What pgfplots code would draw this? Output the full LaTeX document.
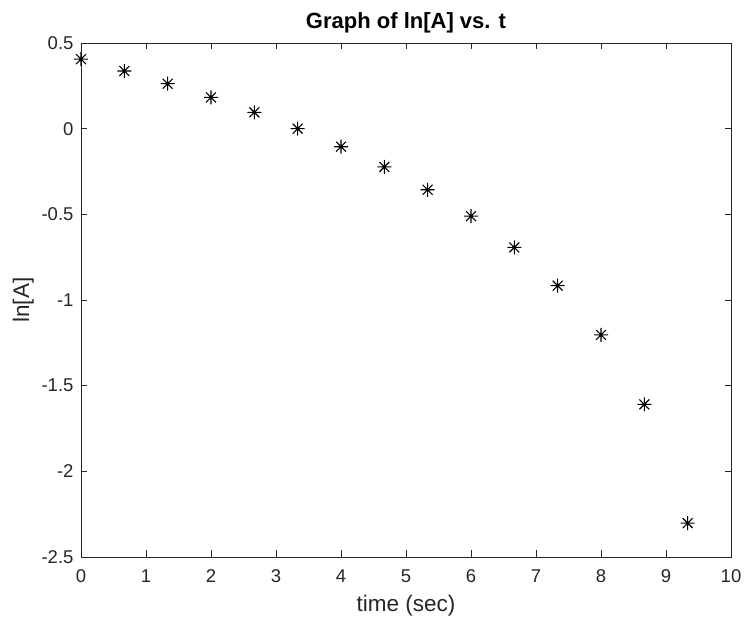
\documentclass[border=0pt]{standalone}
\usepackage{pgfplots}
\pgfplotsset{compat=1.18}
\usepackage{fontspec}
\setmainfont{Liberation Sans}
\definecolor{mgray}{RGB}{38,38,38}
\pgfdeclareplotmark{mstar}{%
 \pgfpathmoveto{\pgfqpoint{-\pgfplotmarksize}{0pt}}\pgfpathlineto{\pgfqpoint{\pgfplotmarksize}{0pt}}%
 \pgfpathmoveto{\pgfqpoint{0pt}{-\pgfplotmarksize}}\pgfpathlineto{\pgfqpoint{0pt}{\pgfplotmarksize}}%
 \pgfpathmoveto{\pgfqpoint{-0.707\pgfplotmarksize}{-0.707\pgfplotmarksize}}\pgfpathlineto{\pgfqpoint{0.707\pgfplotmarksize}{0.707\pgfplotmarksize}}%
 \pgfpathmoveto{\pgfqpoint{-0.707\pgfplotmarksize}{0.707\pgfplotmarksize}}\pgfpathlineto{\pgfqpoint{0.707\pgfplotmarksize}{-0.707\pgfplotmarksize}}%
 \pgfusepathqstroke}
\begin{document}
\begin{tikzpicture}
\begin{axis}[
  scale only axis,
  width=650pt, height=514pt,
  xmin=0, xmax=10, ymin=-2.5, ymax=0.5,
  xtick={0,1,...,10},
  ytick={-2.5,-2,-1.5,-1,-0.5,0,0.5},
  yticklabels={-2.5,-2,-1.5,-1,-0.5,0,0.5},
  xticklabels={0,1,2,3,4,5,6,7,8,9,10},
  tick align=inside,
  major tick length=6.5pt,
  axis line style={mgray, line width=0.7pt},
  tick style={mgray, line width=0.7pt},
  tick label style={font=\fontsize{18.5}{21}\selectfont, text=mgray},
  xticklabel style={yshift=-9pt},
  yticklabel style={xshift=-4pt},
  xlabel={time (sec)},
  ylabel={ln[A]},
  label style={font=\fontsize{22.5}{26}\selectfont, text=mgray},
  title={\textbf{Graph of ln[A] vs. t}},
  title style={font=\fontsize{22}{26}\selectfont, yshift=0pt},
  xlabel style={yshift=-6pt},
  ylabel style={yshift=1pt},
]
\addplot[only marks, mark=mstar, mark size=7pt, black, mark options={line width=1.1pt}] coordinates {
(0,0.4055) (0.6667,0.3365) (1.3333,0.2624) (2,0.1823) (2.6667,0.0953)
(3.3333,0) (4,-0.1054) (4.6667,-0.2231) (5.3333,-0.3567) (6,-0.5108)
(6.6667,-0.6931) (7.3333,-0.9163) (8,-1.2040) (8.6667,-1.6094) (9.3333,-2.3026)
};
\end{axis}
\pgfresetboundingbox
\path ([shift={(-81pt,-63pt)}]current axis.south west) rectangle ([shift={(13pt,43pt)}]current axis.north east);
\end{tikzpicture}
\end{document}
